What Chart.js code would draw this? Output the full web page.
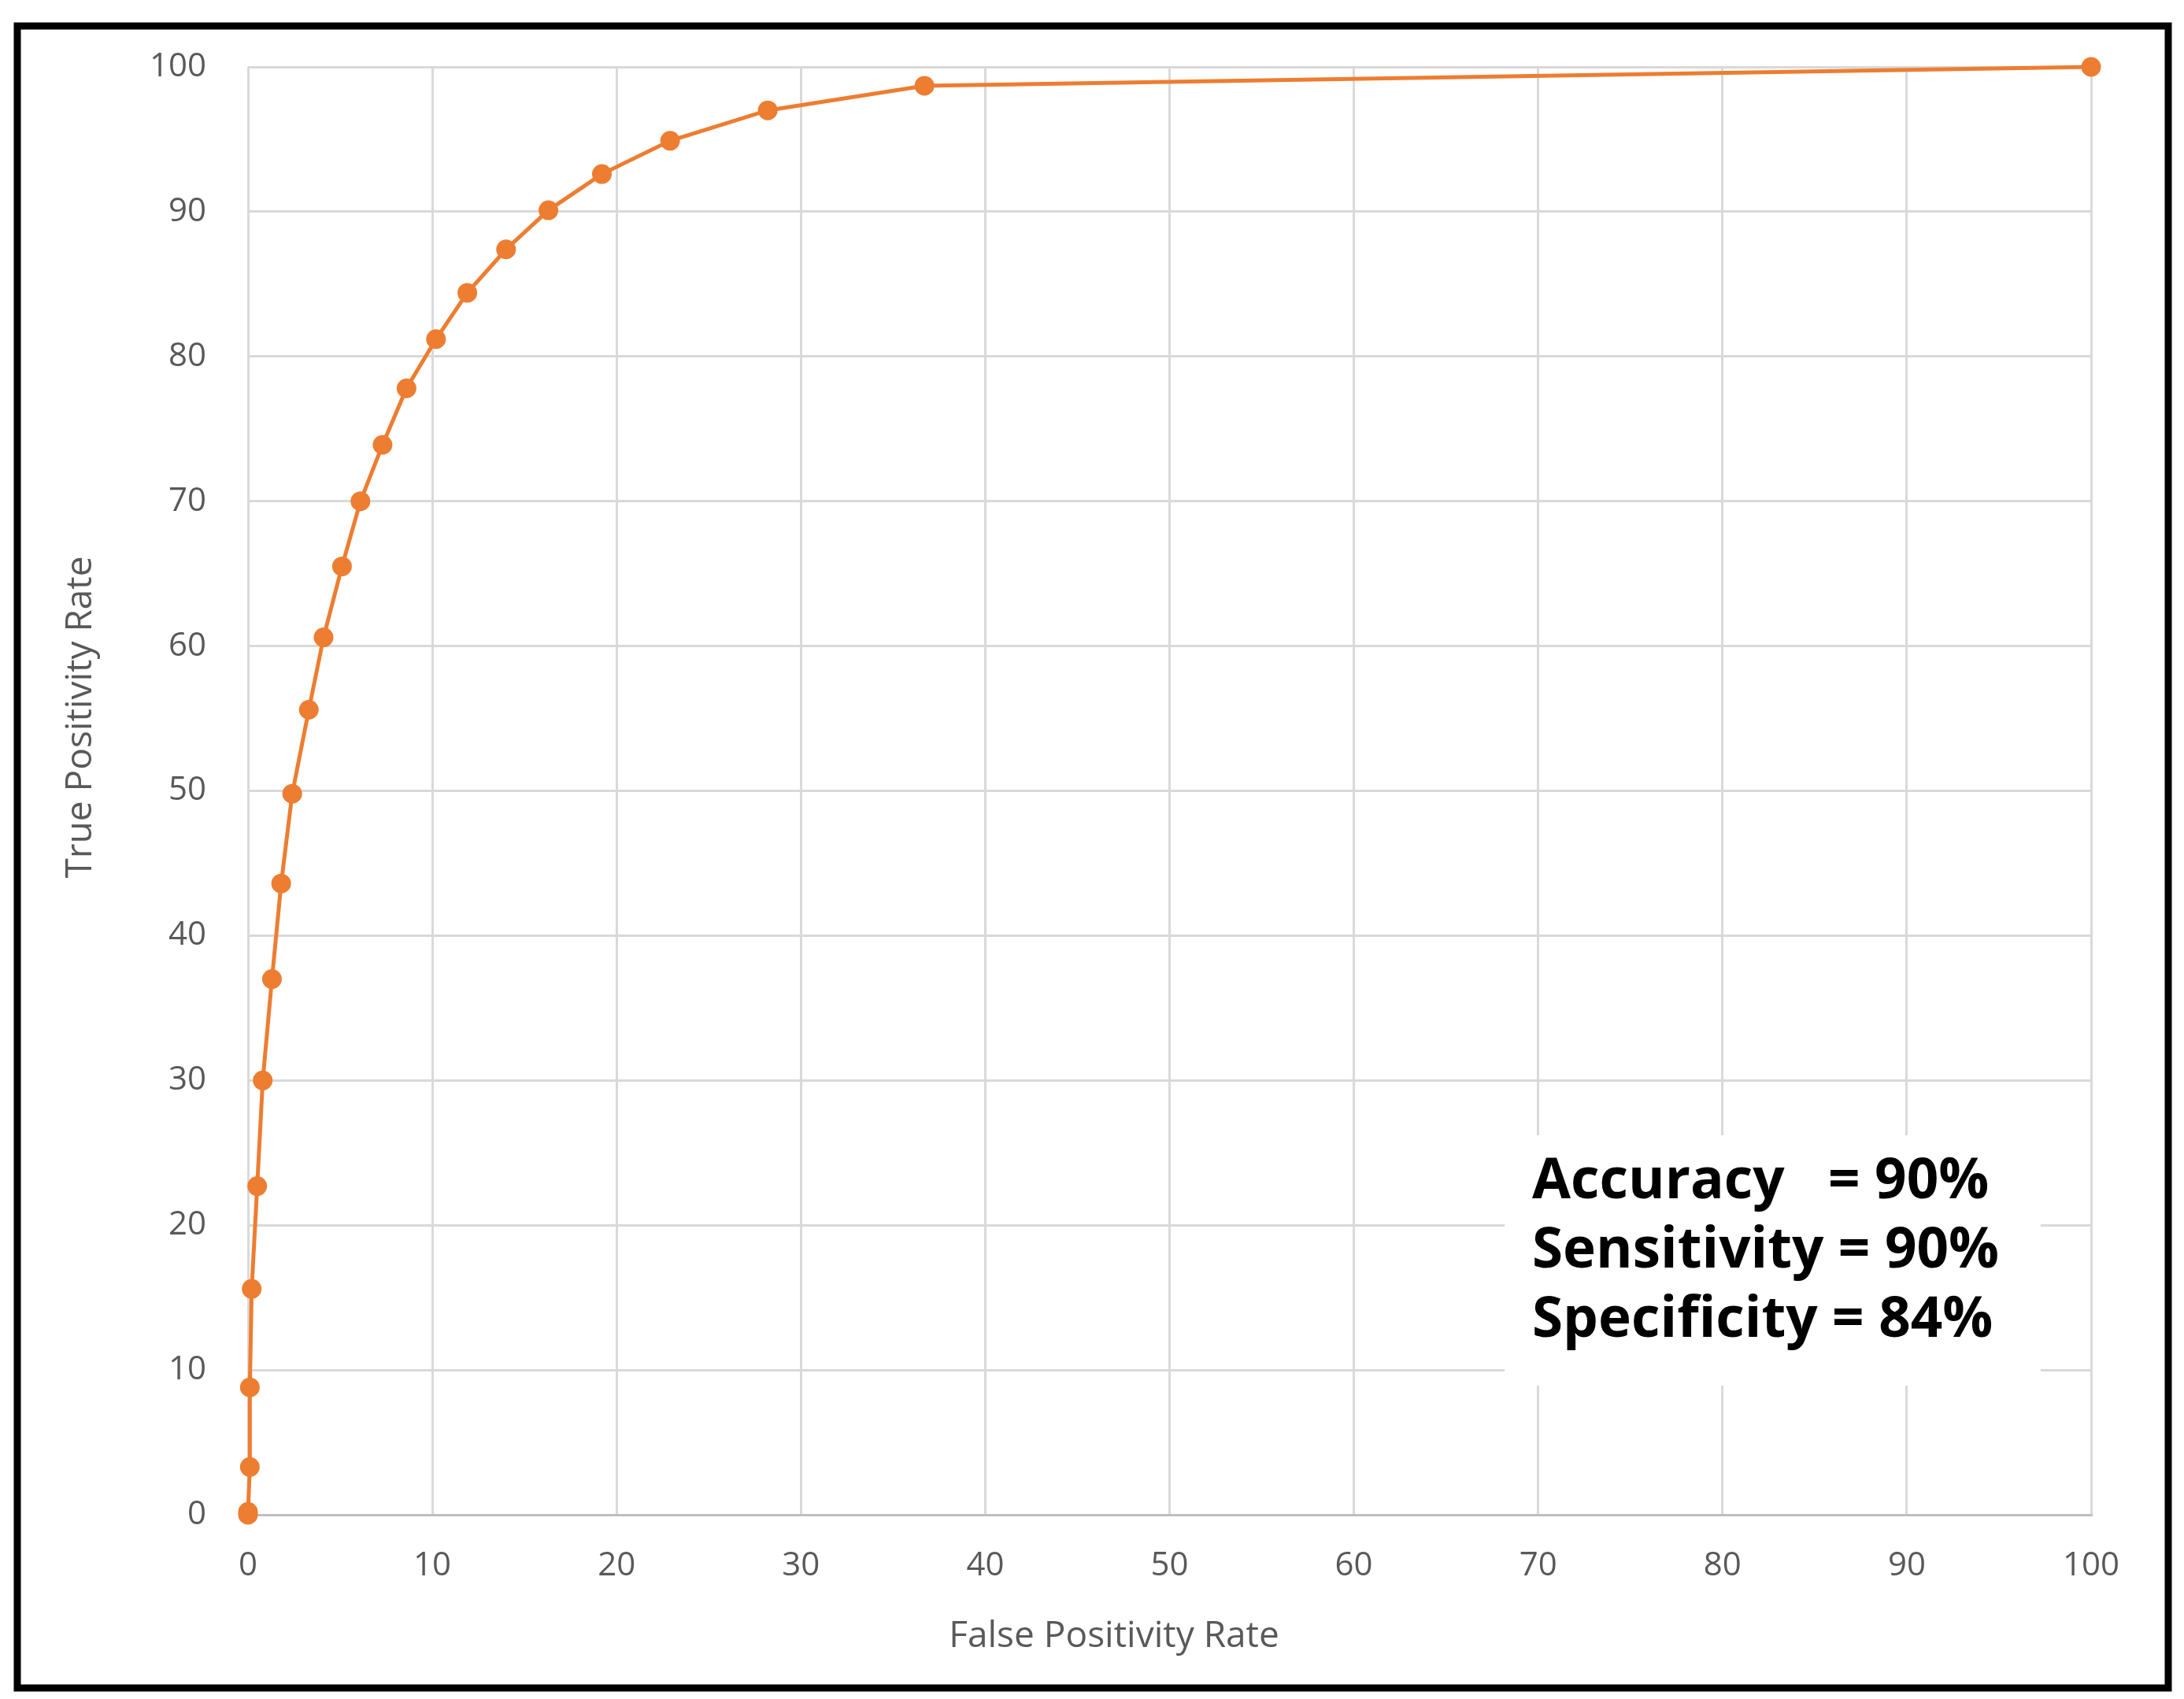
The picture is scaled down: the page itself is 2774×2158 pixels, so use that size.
<!DOCTYPE html>
<html><head><meta charset="utf-8">
<script src="https://cdn.jsdelivr.net/npm/chart.js@4"></script>
<style>html,body{margin:0;padding:0;background:#fff}#w{width:2774px;height:2158px}</style>
</head><body><div id="w"><canvas id="c"></canvas></div>
<script>
const fpr = [0,0,0.1,0.1,0.2,0.5,0.8,1.3,1.8,2.4,3.3,4.1,5.1,6.1,7.3,8.6,10.2,11.9,14.0,16.3,19.2,22.9,28.2,36.7,100];
const tpr = [0,0.2,3.3,8.8,15.6,22.7,30.0,37.0,43.6,49.8,55.6,60.6,65.5,70.0,73.9,77.8,81.2,84.4,87.4,90.1,92.6,94.9,97.0,98.7,100];
const statLines = ["Accuracy   = 90%","Sensitivity = 90%","Specificity = 84%"];
const xTitle = "False Positivity Rate", yTitle = "True Positivity Rate";
const pts = fpr.map((x,i)=>({x:x,y:tpr[i]}));
const deco = {id:'deco',
  beforeDraw(ch){const c=ch.ctx;c.save();c.fillStyle='#fff';c.fillRect(0,0,ch.width,ch.height);c.restore();},
  afterDraw(ch){const c=ch.ctx;c.save();
    c.fillStyle='#595959';c.font='46px "Open Sans"';c.textAlign='center';c.textBaseline='middle';
    c.fillText(xTitle,1415,2079);
    c.translate(103,911);c.rotate(-Math.PI/2);c.fillText(yTitle,0,0);
    c.restore();},
  afterDatasetsDraw(ch){const c=ch.ctx;c.save();
    c.fillStyle='#fff';c.fillRect(1911,1442,681,318);
    c.fillStyle='#000';c.font='bold 71px "Open Sans"';c.textBaseline='middle';
    statLines.forEach((s,i)=>c.fillText(s,1946,1502+i*88));
    c.strokeStyle='#000';c.lineWidth=9;c.strokeRect(22,33,2732,2111);
    c.restore();}};
new Chart(document.getElementById('c'),{type:'scatter',
 data:{datasets:[{data:pts,showLine:true,clip:false,borderColor:'#ED7D31',backgroundColor:'#ED7D31',borderWidth:5,pointRadius:10,pointHoverRadius:10}]},
 options:{responsive:true,maintainAspectRatio:false,animation:false,devicePixelRatio:1,
  layout:{padding:{left:0,top:85,right:118,bottom:0}},
  plugins:{legend:{display:false},tooltip:{enabled:false}},
  scales:{
   x:{type:'linear',min:0,max:100,ticks:{stepSize:10,color:'#595959',font:{size:42,family:'"Open Sans"'},padding:40},
      grid:{color:'#d9d9d9',lineWidth:3,drawTicks:false},border:{color:'#bfbfbf',width:3},
      afterFit(a){a.height=234;}},
   y:{min:0,max:100,ticks:{stepSize:10,color:'#595959',font:{size:42,family:'"Open Sans"'},padding:53},
      grid:{color:'#d9d9d9',lineWidth:3,drawTicks:false},border:{display:false},
      afterFit(a){a.width=315;}}
  }},plugins:[deco]});
</script></body></html>
